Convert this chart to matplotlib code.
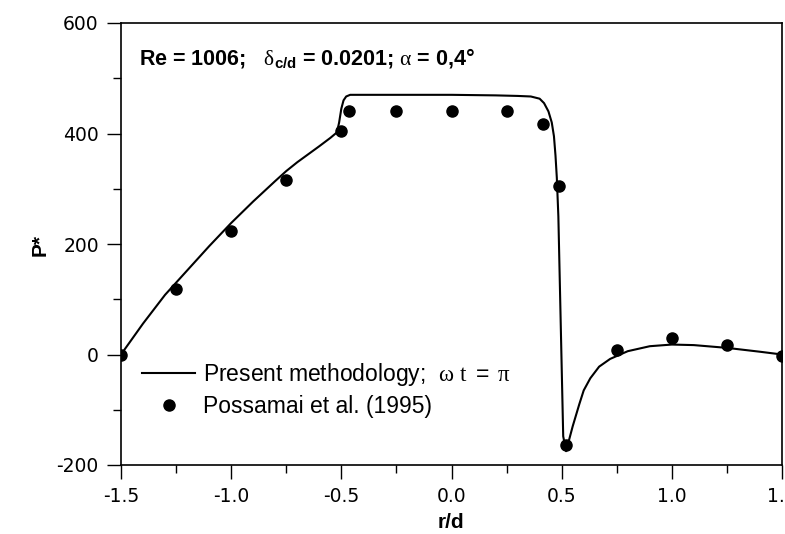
import matplotlib
matplotlib.use("Agg")
import matplotlib.pyplot as plt
from matplotlib.ticker import MultipleLocator

plt.rcParams["font.family"] = "DejaVu Sans"
plt.rcParams["axes.unicode_minus"] = False
plt.rcParams["mathtext.fontset"] = "custom"
plt.rcParams["mathtext.rm"] = "Liberation Sans"
plt.rcParams["mathtext.it"] = "Liberation Serif"
plt.rcParams["mathtext.bf"] = "Liberation Sans:bold"

# present methodology
model_r = [-1.5, -1.4, -1.3, -1.25, -1.2, -1.1, -1.0, -0.9, -0.8, -0.75,
           -0.7, -0.6, -0.55, -0.52, -0.51, -0.5, -0.49, -0.478, -0.46, -0.3,
           0.0, 0.2, 0.3, 0.36, 0.40, 0.42, 0.44, 0.455, 0.465, 0.472,
           0.478, 0.485, 0.507, 0.52, 0.53, 0.55, 0.58, 0.6, 0.63, 0.67,
           0.72, 0.8, 0.9, 1.0, 1.1, 1.25, 1.4, 1.5]
model_p = [0, 56, 108, 130, 152, 196, 238, 277, 314, 332,
           348, 377, 392, 402, 420, 445, 460, 467, 470, 470,
           470, 469, 468, 467, 463, 455, 440, 420, 395, 360,
           320, 250, -148, -175, -160, -130, -90, -65, -43, -22,
           -8, 6, 15, 18, 17, 12, 5, 0]

# Possamai et al. (1995)
exp_r = [-1.5, -1.25, -1.0, -0.75, -0.5, -0.467, -0.25, 0.0, 0.25, 0.415,
         0.488, 0.518, 0.75, 1.0, 1.25, 1.5]
exp_p = [0, 119, 224, 315, 405, 440, 440, 440, 440, 418,
         305, -163, 9, 29, 18, -2]

fig = plt.figure(figsize=(7.85, 5.34), dpi=100)
ax = fig.add_axes([121 / 785, 1 - 465 / 534, 661 / 785, 442 / 534])

ax.plot(model_r, model_p, color="black", linewidth=1.5,
        label=r"Present methodology;  $\omega\ \mathit{t}\ =\ \pi$")
ax.plot(exp_r, exp_p, "o", color="black", markersize=8,
        label="Possamai et al. (1995)")

ax.set_xlim(-1.5, 1.5)
ax.set_ylim(-200, 600)
ax.xaxis.set_major_locator(MultipleLocator(0.5))
ax.xaxis.set_minor_locator(MultipleLocator(0.25))
ax.yaxis.set_major_locator(MultipleLocator(200))
ax.yaxis.set_minor_locator(MultipleLocator(100))
ax.xaxis.set_major_formatter(plt.FuncFormatter(lambda v, p: f"{v:.1f}"))
ax.tick_params(which="major", direction="out", length=10, width=1, labelsize=13.5, pad=6)
ax.tick_params(which="minor", direction="out", length=5.5, width=1)
for s in ax.spines.values():
    s.set_linewidth(1.2)

ax.text(0.027, 0.905, r"Re = 1006;   $\delta_{\mathbf{c/d}}$ = 0.0201; $\alpha$ = 0,4°",
        transform=ax.transAxes, fontsize=15.5, fontweight="bold",
        family="Liberation Sans")

fig.text(40 / 785, 1 - 245 / 534, "P*", rotation=90, fontsize=15, fontweight="bold",
         family="Liberation Sans", ha="center", va="center")
fig.text(451 / 785, 1 - 523 / 534, "r/d", fontsize=15, fontweight="bold",
         family="Liberation Sans", ha="center", va="center")

ax.legend(loc="upper left", bbox_to_anchor=(0.032, 0.235), frameon=False,
          borderpad=0, borderaxespad=0, handlelength=2.3, handletextpad=0.35,
          labelspacing=0.3, prop={"family": "Liberation Sans", "size": 16.5})

fig.savefig("out.png", dpi=100)
